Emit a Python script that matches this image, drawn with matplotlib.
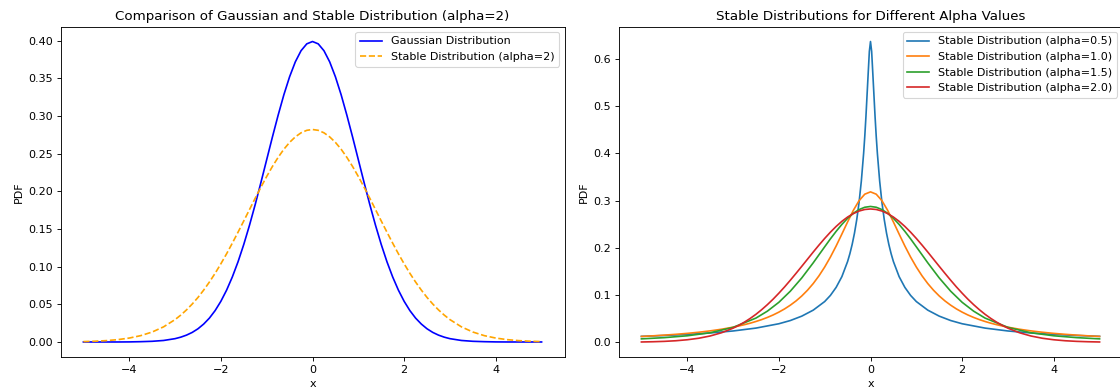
import matplotlib
matplotlib.use("Agg")
import matplotlib.pyplot as plt


# x grid shared by the gaussian / alpha=2 / alpha=1 curves
X_FINE = [-5, -4.75, -4.5, -4.25, -4, -3.75, -3.5, -3.25,
          -3, -2.875, -2.75, -2.625, -2.5, -2.375, -2.25, -2.125,
          -2, -1.875, -1.75, -1.625, -1.5, -1.375, -1.25, -1.125,
          -1, -0.875, -0.75, -0.625, -0.5, -0.375, -0.25, -0.125,
          0,
          0.125, 0.25, 0.375, 0.5, 0.625, 0.75, 0.875, 1,
          1.125, 1.25, 1.375, 1.5, 1.625, 1.75, 1.875, 2,
          2.125, 2.25, 2.375, 2.5, 2.625, 2.75, 2.875, 3,
          3.25, 3.5, 3.75, 4, 4.25, 4.5, 4.75, 5]

GAUSS_PDF = [0.0000, 0.0000, 0.0000, 0.0000, 0.0001, 0.0004, 0.0009, 0.0020,
             0.0044, 0.0064, 0.0091, 0.0127, 0.0175, 0.0238, 0.0317, 0.0417,
             0.0540, 0.0688, 0.0863, 0.1065, 0.1295, 0.1550, 0.1826, 0.2119,
             0.2420, 0.2721, 0.3011, 0.3282, 0.3521, 0.3719, 0.3867, 0.3958,
             0.3989,
             0.3958, 0.3867, 0.3719, 0.3521, 0.3282, 0.3011, 0.2721, 0.2420,
             0.2119, 0.1826, 0.1550, 0.1295, 0.1065, 0.0863, 0.0688, 0.0540,
             0.0417, 0.0317, 0.0238, 0.0175, 0.0127, 0.0091, 0.0064, 0.0044,
             0.0020, 0.0009, 0.0004, 0.0001, 0.0000, 0.0000, 0.0000, 0.0000]

STABLE_A20 = [0.0005, 0.0010, 0.0018, 0.0031, 0.0052, 0.0084, 0.0132, 0.0201,
              0.0297, 0.0357, 0.0426, 0.0504, 0.0591, 0.0689, 0.0796, 0.0912,
              0.1038, 0.1171, 0.1312, 0.1458, 0.1607, 0.1758, 0.1909, 0.2056,
              0.2197, 0.2330, 0.2451, 0.2559, 0.2650, 0.2723, 0.2777, 0.2810,
              0.2821,
              0.2810, 0.2777, 0.2723, 0.2650, 0.2559, 0.2451, 0.2330, 0.2197,
              0.2056, 0.1909, 0.1758, 0.1607, 0.1458, 0.1312, 0.1171, 0.1038,
              0.0912, 0.0796, 0.0689, 0.0591, 0.0504, 0.0426, 0.0357, 0.0297,
              0.0201, 0.0132, 0.0084, 0.0052, 0.0031, 0.0018, 0.0010, 0.0005]

STABLE_A10 = [0.0122, 0.0135, 0.0150, 0.0167, 0.0187, 0.0211, 0.0240, 0.0275,
              0.0318, 0.0344, 0.0372, 0.0403, 0.0439, 0.0479, 0.0525, 0.0577,
              0.0637, 0.0705, 0.0784, 0.0874, 0.0979, 0.1101, 0.1242, 0.1405,
              0.1592, 0.1803, 0.2037, 0.2289, 0.2546, 0.2791, 0.2996, 0.3134,
              0.3183,
              0.3134, 0.2996, 0.2791, 0.2546, 0.2289, 0.2037, 0.1803, 0.1592,
              0.1405, 0.1242, 0.1101, 0.0979, 0.0874, 0.0784, 0.0705, 0.0637,
              0.0577, 0.0525, 0.0479, 0.0439, 0.0403, 0.0372, 0.0344, 0.0318,
              0.0275, 0.0240, 0.0211, 0.0187, 0.0167, 0.0150, 0.0135, 0.0122]

X_A15 = [-5, -4.5, -4, -3.5, -3, -2.5, -2.25, -2, -1.75, -1.5, -1.25,
         -1, -0.875, -0.75, -0.625, -0.5, -0.375, -0.25, -0.125,
         0,
         0.125, 0.25, 0.375, 0.5, 0.625, 0.75, 0.875, 1,
         1.25, 1.5, 1.75, 2, 2.25, 2.5, 3, 3.5, 4, 4.5, 5]
STABLE_A15 = [0.0071, 0.0097, 0.0136, 0.0200, 0.0314, 0.0511, 0.0658, 0.0845,
              0.1080, 0.1361, 0.1681, 0.2020, 0.2188, 0.2347, 0.2494, 0.2623,
              0.2729, 0.2808, 0.2857,
              0.2874,
              0.2857, 0.2808, 0.2729, 0.2623, 0.2494, 0.2347, 0.2188, 0.2020,
              0.1681, 0.1361, 0.1080, 0.0845, 0.0658, 0.0511, 0.0314, 0.0200,
              0.0136, 0.0097, 0.0071]

X_A05 = [-5, -4.5, -4, -3.5, -3, -2.5, -2, -1.75, -1.5, -1.25, -1,
         -0.875, -0.75, -0.625, -0.5, -0.45, -0.4, -0.35, -0.3, -0.25,
         -0.2, -0.15, -0.125, -0.1, -0.05, -0.025,
         0,
         0.025, 0.05, 0.1, 0.125, 0.15, 0.2, 0.25, 0.3, 0.35, 0.4, 0.45,
         0.5, 0.625, 0.75, 0.875, 1, 1.25, 1.5, 1.75, 2, 2.5, 3, 3.5,
         4, 4.5, 5]
STABLE_A05 = [0.0124, 0.0142, 0.0165, 0.0196, 0.0238, 0.0299, 0.0391, 0.0459,
              0.0552, 0.0679, 0.0861, 0.0991, 0.1161, 0.1388, 0.1708, 0.1874,
              0.2071, 0.2308, 0.2597, 0.2956, 0.3412, 0.3999, 0.4357, 0.4769,
              0.5700, 0.6157,
              0.6366,
              0.6157, 0.5700, 0.4769, 0.4357, 0.3999, 0.3412, 0.2956, 0.2597,
              0.2308, 0.2071, 0.1874, 0.1708, 0.1388, 0.1161, 0.0991, 0.0861,
              0.0679, 0.0552, 0.0459, 0.0391, 0.0299, 0.0238, 0.0196, 0.0165,
              0.0142, 0.0124]


def main():
    # drawn at 14x4.9 in, rendered at 80 dpi -> 1120x392 px
    fig = plt.figure(figsize=(14, 4.9), dpi=80)
    # right panel runs slightly past the canvas edge, like the source image
    ax1 = fig.add_axes([60.5 / 1120, 35 / 392, 504 / 1120, 330.5 / 392])
    ax2 = fig.add_axes([618.5 / 1120, 35 / 392, 504 / 1120, 330.5 / 392])

    ax1.plot(X_FINE, GAUSS_PDF, color="blue", label="Gaussian Distribution")
    ax1.plot(X_FINE, STABLE_A20, color="orange", linestyle="--",
             label="Stable Distribution (alpha=2)")
    ax1.set_title("Comparison of Gaussian and Stable Distribution (alpha=2)")
    ax1.set_xlabel("x")
    ax1.set_ylabel("PDF")
    ax1.legend(loc="upper right")

    ax2.plot(X_A05, STABLE_A05, label="Stable Distribution (alpha=0.5)")
    ax2.plot(X_FINE, STABLE_A10, label="Stable Distribution (alpha=1.0)")
    ax2.plot(X_A15, STABLE_A15, label="Stable Distribution (alpha=1.5)")
    ax2.plot(X_FINE, STABLE_A20, label="Stable Distribution (alpha=2.0)")
    ax2.set_title("Stable Distributions for Different Alpha Values")
    ax2.set_xlabel("x")
    ax2.set_ylabel("PDF")
    ax2.legend(loc="upper right")

    fig.savefig("out.png", dpi=80)
    plt.close(fig)


if __name__ == "__main__":
    main()
